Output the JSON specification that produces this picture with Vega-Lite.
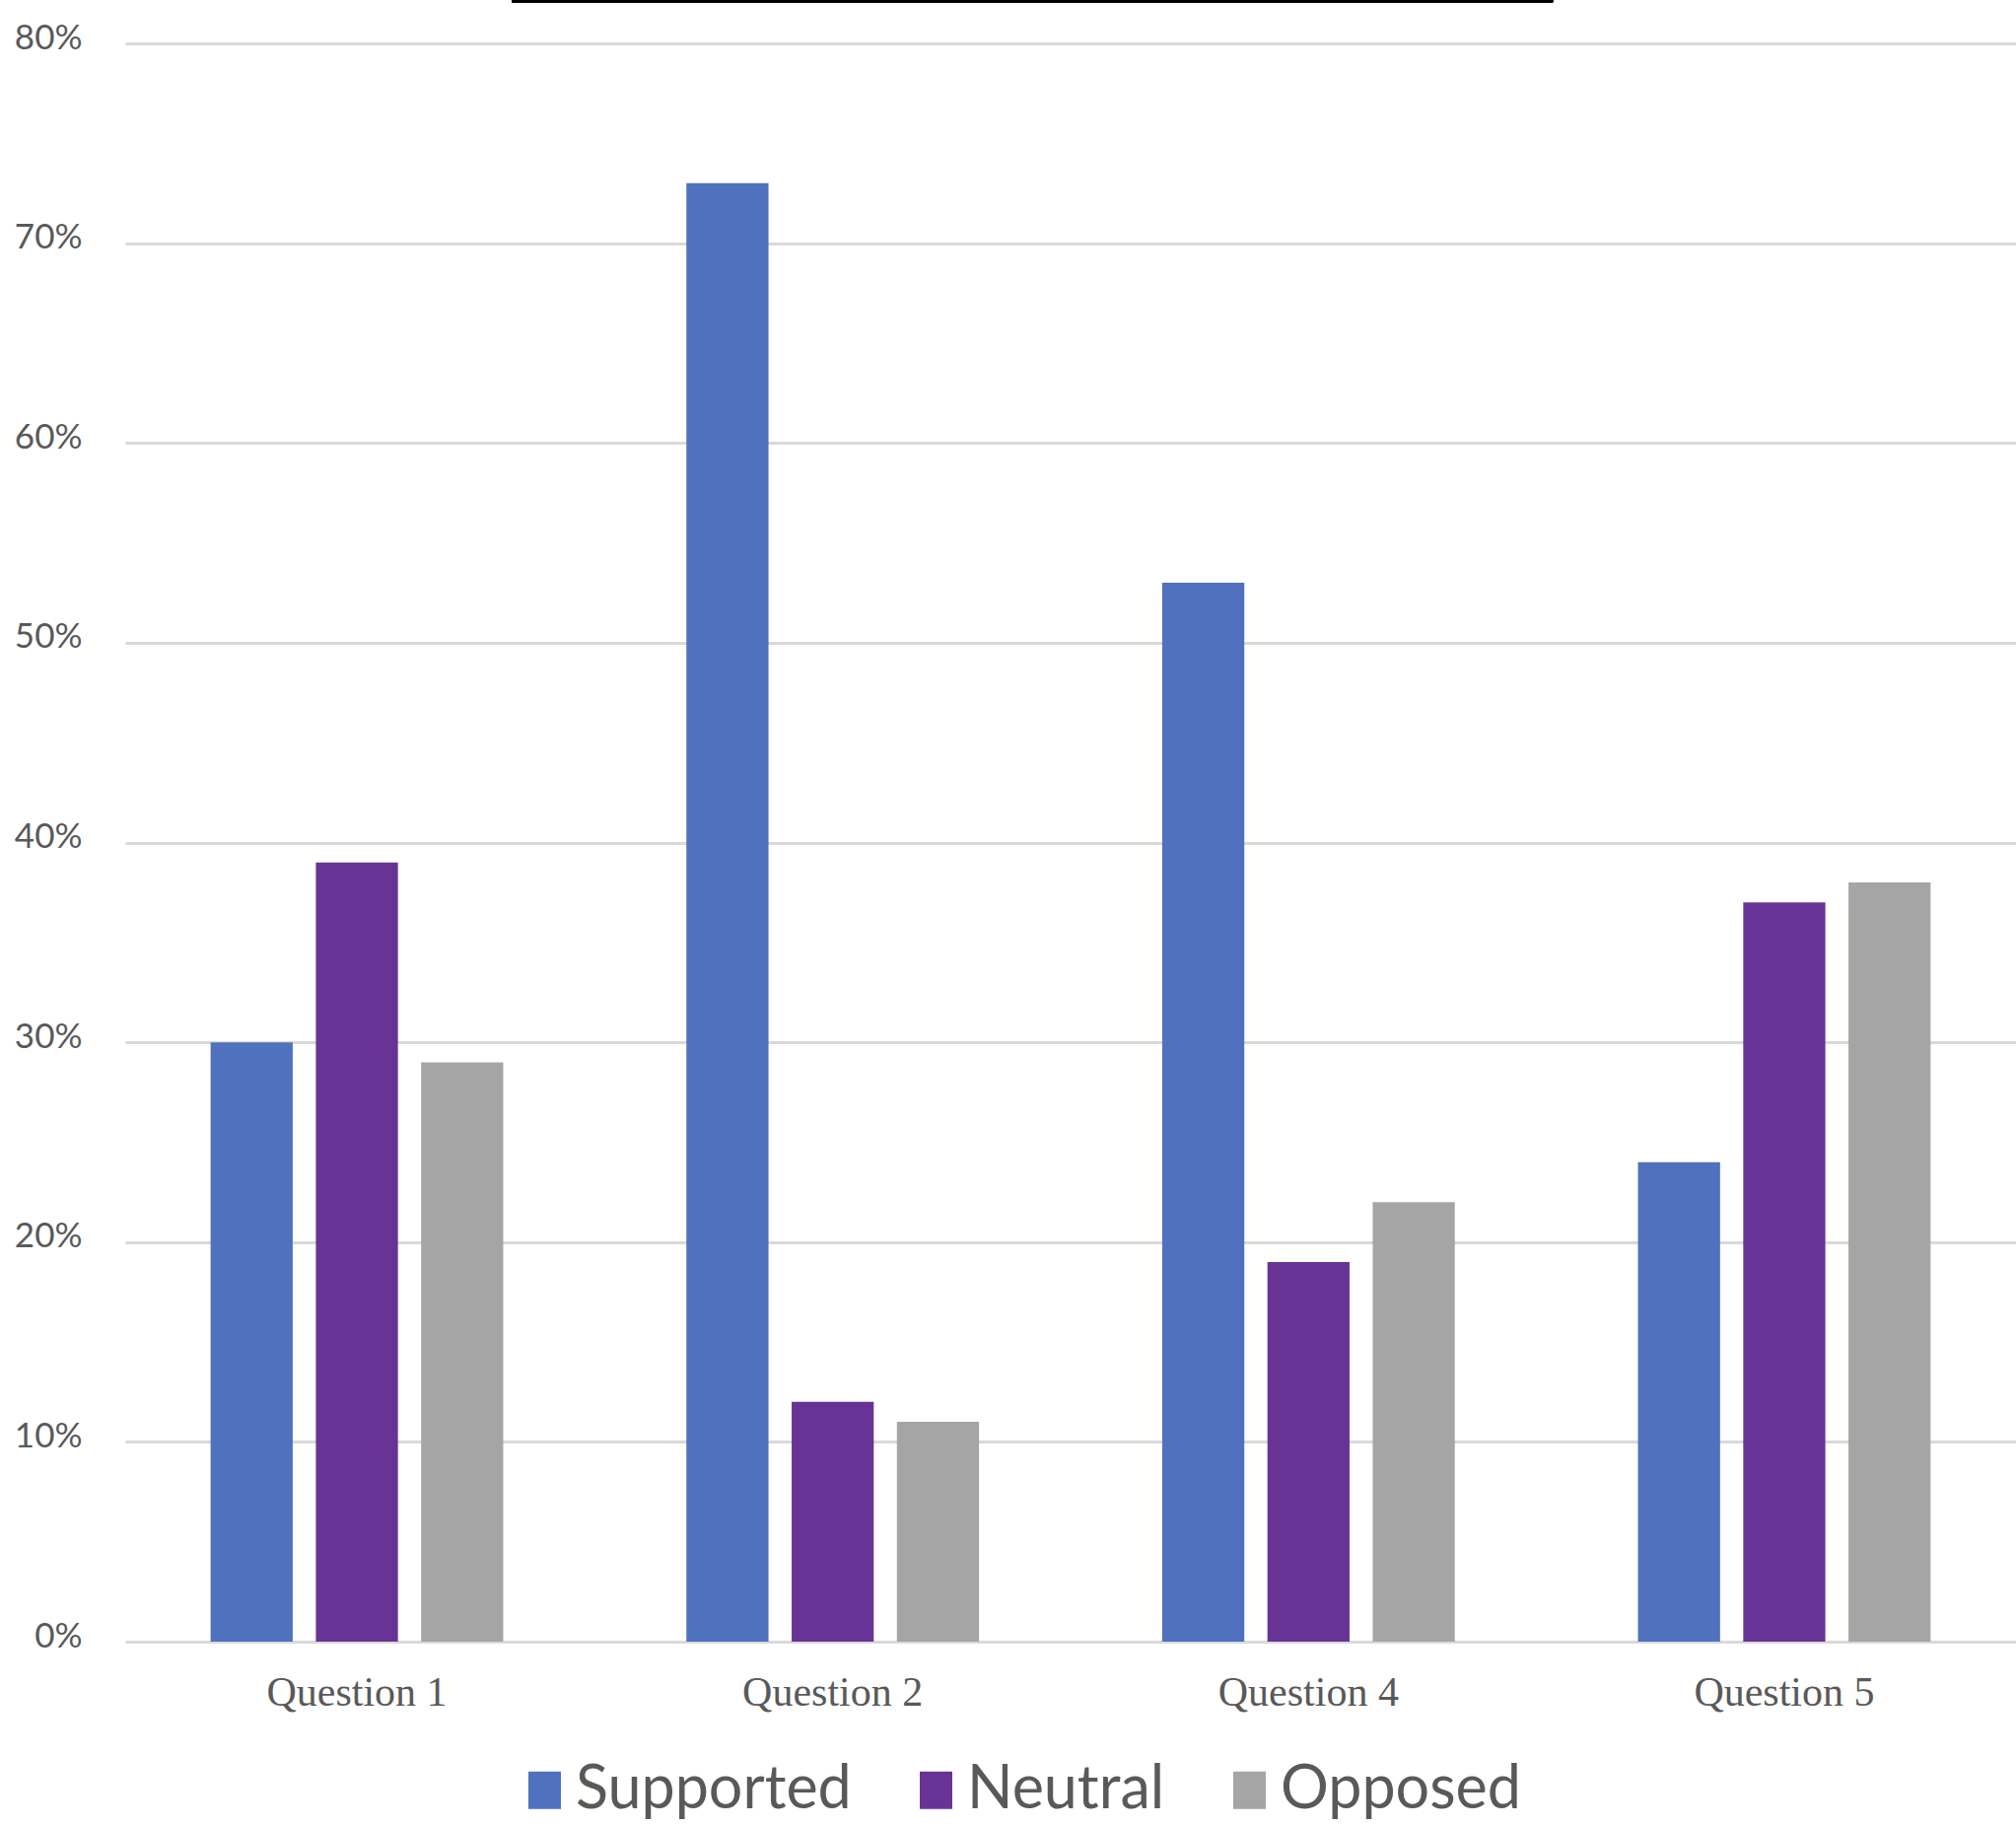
{
  "$schema": "https://vega.github.io/schema/vega-lite/v6.json",
  "width": 1918,
  "height": 1621,
  "autosize": {"type": "none"},
  "padding": {"left": 127, "top": 44, "right": 0, "bottom": 188},
  "background": "white",
  "data": {
    "values": [
      {"question": "Question 1", "response": "Supported", "value": 0.30},
      {"question": "Question 1", "response": "Neutral", "value": 0.39},
      {"question": "Question 1", "response": "Opposed", "value": 0.29},
      {"question": "Question 2", "response": "Supported", "value": 0.73},
      {"question": "Question 2", "response": "Neutral", "value": 0.12},
      {"question": "Question 2", "response": "Opposed", "value": 0.11},
      {"question": "Question 4", "response": "Supported", "value": 0.53},
      {"question": "Question 4", "response": "Neutral", "value": 0.19},
      {"question": "Question 4", "response": "Opposed", "value": 0.22},
      {"question": "Question 5", "response": "Supported", "value": 0.24},
      {"question": "Question 5", "response": "Neutral", "value": 0.37},
      {"question": "Question 5", "response": "Opposed", "value": 0.38}
    ]
  },
  "layer": [
    {
      "mark": {"type": "bar"},
      "encoding": {
        "x": {
          "field": "question",
          "type": "nominal",
          "sort": ["Question 1", "Question 2", "Question 4", "Question 5"],
          "scale": {"paddingInner": 0.385, "paddingOuter": 0.1795},
          "axis": {
            "title": null,
            "labelAngle": 0,
            "labelLimit": 0,
            "domain": false,
            "ticks": false,
            "grid": false,
            "labelFont": "Liberation Serif",
            "labelFontSize": 42,
            "labelColor": "#595959",
            "labelPadding": 31
          }
        },
        "xOffset": {
          "field": "response",
          "type": "nominal",
          "sort": ["Supported", "Neutral", "Opposed"],
          "scale": {"paddingInner": 0.22, "paddingOuter": 0}
        },
        "y": {
          "field": "value",
          "type": "quantitative",
          "scale": {"domain": [0, 0.8], "nice": false},
          "axis": {
            "title": null,
            "format": ".0%",
            "values": [0, 0.1, 0.2, 0.3, 0.4, 0.5, 0.6, 0.7, 0.8],
            "domain": false,
            "ticks": false,
            "grid": true,
            "gridColor": "#d9d9d9",
            "gridWidth": 3,
            "labelFont": "Lato",
            "labelFontSize": 35,
            "labelColor": "#595959",
            "labelPadding": 44,
            "labelOffset": -6,
            "labelLimit": 0
          }
        },
        "color": {
          "field": "response",
          "type": "nominal",
          "sort": ["Supported", "Neutral", "Opposed"],
          "scale": {"domain": ["Supported", "Neutral", "Opposed"], "range": ["#4f71be", "#673495", "#a5a5a5"]},
          "legend": {
            "title": null,
            "orient": "none",
            "direction": "horizontal",
            "legendX": 395,
            "legendY": 1741,
            "padding": 0,
            "symbolType": "M-0.868,-1H0.868V1H-0.868Z",
            "symbolSize": 1444,
            "symbolStrokeWidth": 0,
            "symbolOpacity": 1,
            "labelFont": "Lato",
            "labelFontSize": 61,
            "labelColor": "#595959",
            "labelOffset": 1,
            "labelLimit": 0,
            "columnPadding": 55
          }
        }
      }
    },
    {
      "mark": {"type": "rule", "color": "#000000", "strokeWidth": 3, "clip": false},
      "encoding": {
        "x": {"datum": "Question 1", "type": "nominal", "bandPosition": 1.029},
        "x2": {"datum": "Question 4", "bandPosition": 1.335},
        "y": {"datum": 0.8213, "type": "quantitative"}
      }
    }
  ],
  "config": {"view": {"stroke": null}}
}
